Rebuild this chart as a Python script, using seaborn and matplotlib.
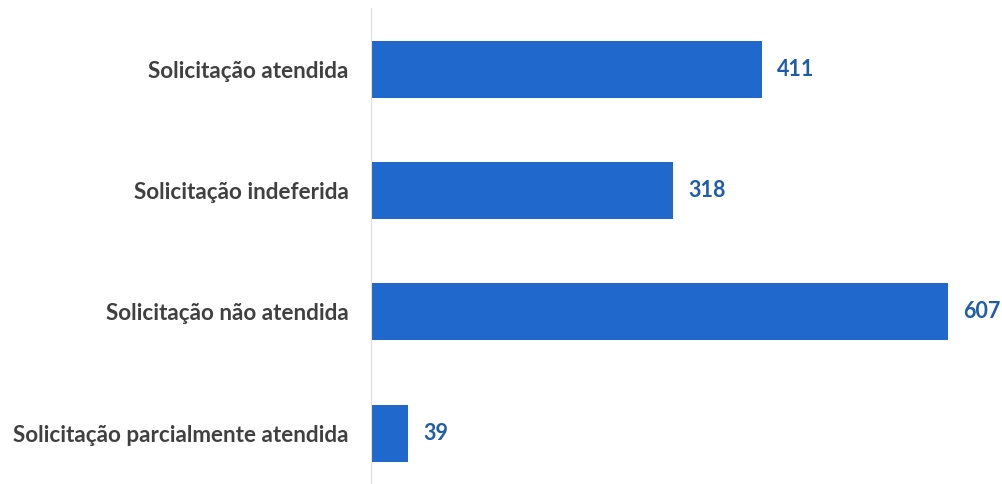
import matplotlib
matplotlib.use("Agg")
import matplotlib.pyplot as plt
import seaborn as sns
import pandas as pd

categories = ["Solicitação atendida", "Solicitação indeferida",
              "Solicitação não atendida", "Solicitação parcialmente atendida"]
values = [411, 318, 607, 39]

df = pd.DataFrame({"cat": categories, "val": values})

sns.set_style("white")
plt.rcParams['font.family'] = ['Lato', 'DejaVu Sans']

fig = plt.figure(figsize=(10.02, 4.84), dpi=100)
ax = fig.add_axes([371/1002, 0.0, 1 - 371/1002, 1 - 8/484])

sns.barplot(data=df, x="val", y="cat", orient="h", color="#2068CC",
            saturation=1, width=0.47, ax=ax, edgecolor="none")

ax.set_xlim(0, 664)
ax.set_ylim(3.42, -0.503)
ax.set_xlabel("")
ax.set_ylabel("")
ax.set_xticks([])
for s in ["top", "right", "bottom"]:
    ax.spines[s].set_visible(False)
ax.spines["left"].set_color("#e0e0e0")
ax.spines["left"].set_linewidth(0.8)
ax.tick_params(axis="y", length=0, pad=16)
for lbl in ax.get_yticklabels():
    lbl.set_fontsize(16.2)
    lbl.set_fontweight("bold")
    lbl.set_color("#404040")

for i, v in enumerate(values):
    ax.annotate(str(v), xy=(v, i), xytext=(11, 0), textcoords="offset points",
                va="center", ha="left", fontsize=15.5, fontweight="bold",
                color="#1F5DAA")

fig.savefig("out.png", dpi=100)
